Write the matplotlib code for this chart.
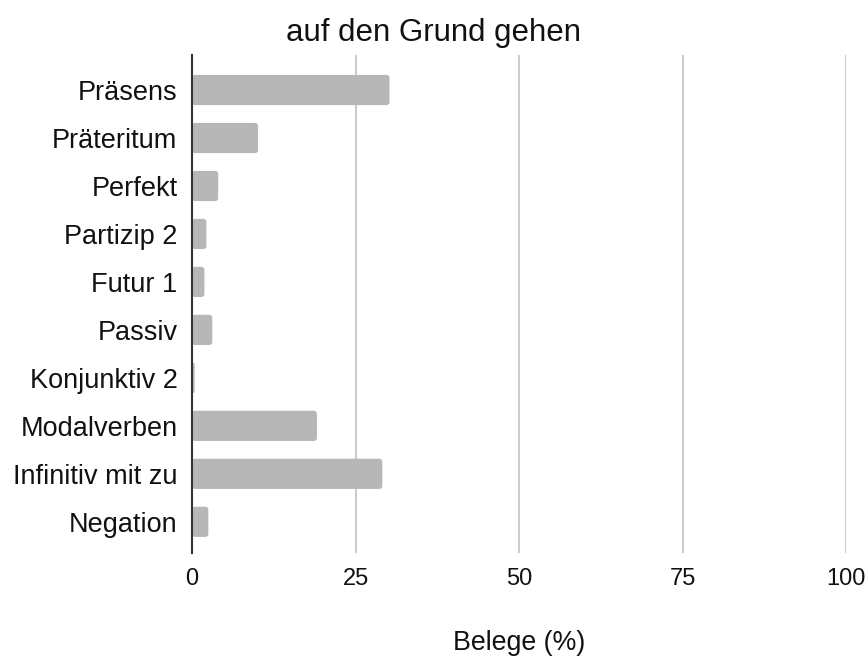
import matplotlib
matplotlib.use("Agg")
import matplotlib.pyplot as plt
from matplotlib.patches import FancyBboxPatch

plt.rcParams['font.family'] = ['Liberation Sans', 'DejaVu Sans']

categories = ["Präsens", "Präteritum", "Perfekt", "Partizip 2", "Futur 1",
              "Passiv", "Konjunktiv 2", "Modalverben", "Infinitiv mit zu", "Negation"]
values = [30.2, 10.1, 4.0, 2.2, 1.9, 3.1, 0.4, 19.1, 29.1, 2.5]
xticks = [0, 25, 50, 75, 100]
title = "auf den Grund gehen"
xlabel = "Belege (%)"

fig = plt.figure(figsize=(8.68, 6.59), dpi=100)
ax = fig.add_axes([192/868, 1-553/659, (846-192)/868, (553-55)/659])

ypos = list(range(len(categories)))
bars = ax.barh(ypos, values, height=0.63, color="#b7b7b7", zorder=2)
ax.set_xlim(0, 100)
ax.set_ylim(9.65, -0.73)

# replace bars with rounded versions
px_per_x = (846-192)/100
px_per_y = 48
aspect = px_per_x / px_per_y
for b in bars:
    x, y = b.get_x(), b.get_y()
    w, h = b.get_width(), b.get_height()
    r = min(0.46, w / 2)
    p = FancyBboxPatch((x, y), w, h, boxstyle=f"round,pad=0,rounding_size={r}",
                       mutation_aspect=aspect, facecolor="#b7b7b7",
                       edgecolor="none", zorder=2)
    b.set_visible(False)
    ax.add_patch(p)

ax.set_xticks(xticks)
ax.set_xticklabels([str(t) for t in xticks])
ax.set_yticks(ypos)
ax.set_yticklabels(categories)
ax.tick_params(axis='both', length=0, colors="#111111")
ax.tick_params(axis='y', pad=10.5, labelsize=19.5)
ax.tick_params(axis='x', pad=10.5, labelsize=17)
ax.xaxis.grid(True, color="#cccccc", linewidth=1.5, zorder=0)
ax.set_axisbelow(True)
for s in ["top", "right", "bottom"]:
    ax.spines[s].set_visible(False)
ax.spines["left"].set_color("#333333")
ax.spines["left"].set_linewidth(1.5)
ax.spines["left"].set_zorder(3)

fig.text(0.5, 1-33/659, title, ha="center", va="center", fontsize=22.5, color="#111111")
fig.text(519/868, 1-643/659, xlabel, ha="center", va="center", fontsize=19.3, color="#111111")

fig.savefig("out.png", dpi=100)
